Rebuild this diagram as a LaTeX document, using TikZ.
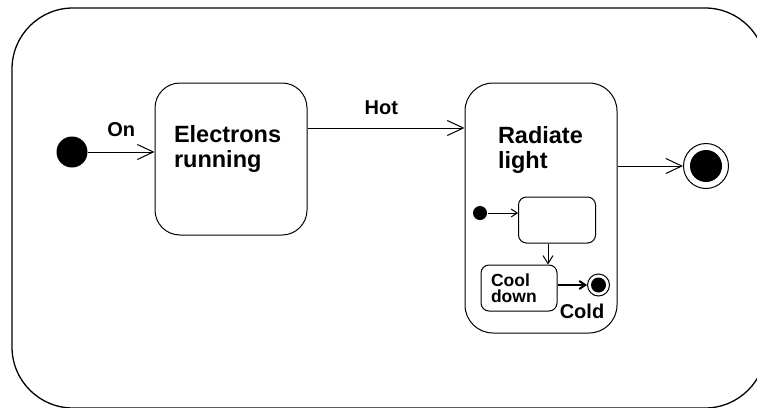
\documentclass[tikz,border=0pt]{standalone}
\usepackage{fontspec}
\setmainfont{Liberation Sans}
\usetikzlibrary{arrows.meta, positioning}

\begin{document}
\begin{tikzpicture}[x=1pt, y=-1pt, >={Straight Barb[length=16pt, width=15pt]}, line width=1pt]
  % Styles
  \tikzstyle{state}=[draw, rounded corners=25pt, inner sep=0pt]
  \tikzstyle{substate}=[draw, rounded corners=8pt, inner sep=0pt, font=\fontsize{17.5}{16.5}\selectfont\bfseries, align=left]
  \tikzstyle{title}=[font=\fontsize{23.5}{25}\selectfont\bfseries, align=left, inner sep=0pt]
  \tikzstyle{event}=[font=\fontsize{20}{20}\selectfont\bfseries, inner sep=0pt]
  \tikzset{smallarrow/.style={-{Straight Barb[length=6pt, width=8pt]}}}

  \useasboundingbox (0,0) rectangle (757,407);
  \clip (0,0) rectangle (757,407);

  % --- Outer state ---
  \draw[line width=1.3pt, rounded corners=61pt] (12,8) rectangle (766,408);

  % --- Nodes ---
  \node[circle, fill, minimum size=31pt, inner sep=0pt] (Start) at (72,152) {};
  \node[state, minimum width=152pt, minimum height=152pt] (Electrons) at (231,159) {};
  \node[title, below right=42pt and 19pt of Electrons.north west] (ElectronsText) {Electrons\\running};
  \node[state, rounded corners=28pt, minimum width=152pt, minimum height=250pt] (Radiate) at (541,208) {};
  \node[title, below right=43pt and 33pt of Radiate.north west] (RadiateText) {Radiate\\light};
  \node[circle, draw, minimum size=45pt, inner sep=0pt] (End) at (706,166) {};
  \node[circle, fill, minimum size=32pt, inner sep=0pt] (EndDot) at (End) {};

  % Inner states
  \node[circle, fill, minimum size=14pt, inner sep=0pt] (SubStart) at (480,213) {};
  \node[substate, minimum width=77pt, minimum height=46pt] (Blank) at (557,220) {};
  \node[substate, minimum width=76pt, minimum height=46pt, text width=56pt] (Cool) at (519,288) {Cool\\down};
  \node[circle, draw, minimum size=22pt, inner sep=0pt] (SubEnd) at (598.5,285) {};
  \node[circle, fill, minimum size=15pt, inner sep=0pt] (SubEndDot) at (SubEnd) {};
  \node[font=\fontsize{20}{20}\selectfont\bfseries, inner sep=0pt] (Cold) at (582,311) {Cold};

  % --- Transitions ---
  \coordinate (HotPoint) at ([yshift=31pt]Electrons.east);
  \coordinate (Drop) at ([xshift=-9pt]Blank.south);

  \draw[->] (Start) -- (Start -| Electrons.west) node[event, midway, above=15pt] {On};
  \draw[->] (HotPoint) -- (HotPoint -| Radiate.west) node[event, pos=0.47, above=13pt] {Hot};
  \draw[->] (End -| Radiate.east) -- (End);

  \draw[smallarrow] (SubStart) -- (SubStart -| Blank.west);
  \draw[-{Straight Barb[length=8pt, width=10pt]}] (Drop) -- (Drop |- Cool.north);
  \draw[smallarrow, line width=2pt] (SubEnd -| Cool.east) -- (SubEnd);

\end{tikzpicture}
\end{document}
